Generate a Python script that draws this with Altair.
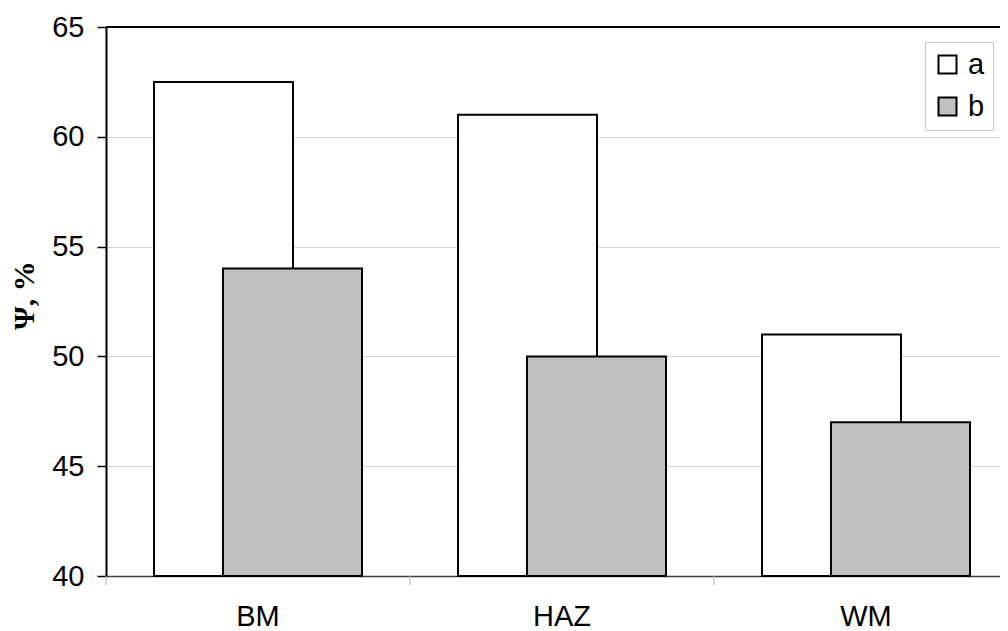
import altair as alt
import pandas as pd

categories = ["BM", "HAZ", "WM"]
series_a = [62.5, 61.0, 51.0]
series_b = [54.0, 50.0, 47.0]
series_names = ["a", "b"]
series_colors = ["#ffffff", "#c0c0c0"]
y_ticks = [40, 45, 50, 55, 60, 65]

df_a = pd.DataFrame({"cat": categories, "series": "a", "value": series_a})
df_b = pd.DataFrame({"cat": categories, "series": "b", "value": series_b})
df_cat = pd.DataFrame({"cat": categories})

W, H = 894, 549
STEP = 304
FS = 29

x_enc = alt.X(
    "cat:N",
    sort=categories,
    scale=alt.Scale(domain=categories, range=[0, STEP * 3], paddingInner=0, paddingOuter=0),
    axis=alt.Axis(
        title=None,
        labelFont="Liberation Sans",
        labelFontSize=FS,
        labelColor="black",
        labelPadding=26,
        labelAngle=0,
        ticks=False,
        domainColor="#404040",
        domainWidth=1.5,
        grid=False,
    ),
)

y_enc = alt.Y(
    "value:Q",
    scale=alt.Scale(domain=[40, 65], nice=False, zero=False),
    axis=alt.Axis(
        values=y_ticks,
        title="Ψ, %",
        titleFont="Liberation Serif",
        titleFontSize=30,
        titleFontWeight="bold",
        titleColor="black",
        titleAngle=270,
        titleAlign="center",
        titleBaseline="alphabetic",
        titleX=-73,
        titleY=268,
        labelFont="Liberation Sans",
        labelFontSize=FS,
        labelColor="black",
        labelPadding=13,
        tickSize=9,
        tickColor="black",
        tickWidth=1.5,
        domainColor="black",
        domainWidth=2,
        grid=True,
        gridColor="#d4d4d4",
        gridWidth=1,
    ),
)

color_enc = alt.Color(
    "series:N",
    scale=alt.Scale(domain=series_names, range=series_colors),
    legend=alt.Legend(
        title=None,
        orient="none",
        legendX=819,
        legendY=15,
        symbolType="square",
        symbolSize=324,
        symbolStrokeColor="black",
        symbolStrokeWidth=2,
        labelFont="Liberation Sans",
        labelFontSize=FS,
        labelColor="black",
        labelOffset=6,
        padding=8,
        rowPadding=12,
        strokeColor="#c8c8c8",
        fillColor="white",
    ),
)

bars_a = alt.Chart(df_a).mark_bar(
    width=139, xOffset=-34.5, stroke="black", strokeWidth=2
).encode(x=x_enc, y=y_enc, y2=alt.datum(40), color=color_enc)

bars_b = alt.Chart(df_b).mark_bar(
    width=139, xOffset=34.5, stroke="black", strokeWidth=2
).encode(x=x_enc, y=y_enc, y2=alt.datum(40), color=color_enc)

cat_ticks = alt.Chart(df_cat).mark_rule(
    color="#b0b0b0", strokeWidth=1, xOffset=-STEP / 2
).encode(x=x_enc, y=alt.value(H), y2=alt.value(H + 9))

top_line = alt.Chart(df_cat).mark_rule(color="black", strokeWidth=2).encode(
    x=alt.value(0), x2=alt.value(W), y=alt.value(0)
)

chart = (
    alt.layer(bars_a, bars_b, cat_ticks, top_line)
    .properties(
        width=W,
        height=H,
        autosize=alt.AutoSizeParams(type="none"),
        padding={"left": 98, "top": 19, "right": 0, "bottom": 55},
    )
    .configure_view(stroke=None)
    .configure(background="white")
)

chart.save("out.html", embed_options={"renderer": "svg", "actions": False})
